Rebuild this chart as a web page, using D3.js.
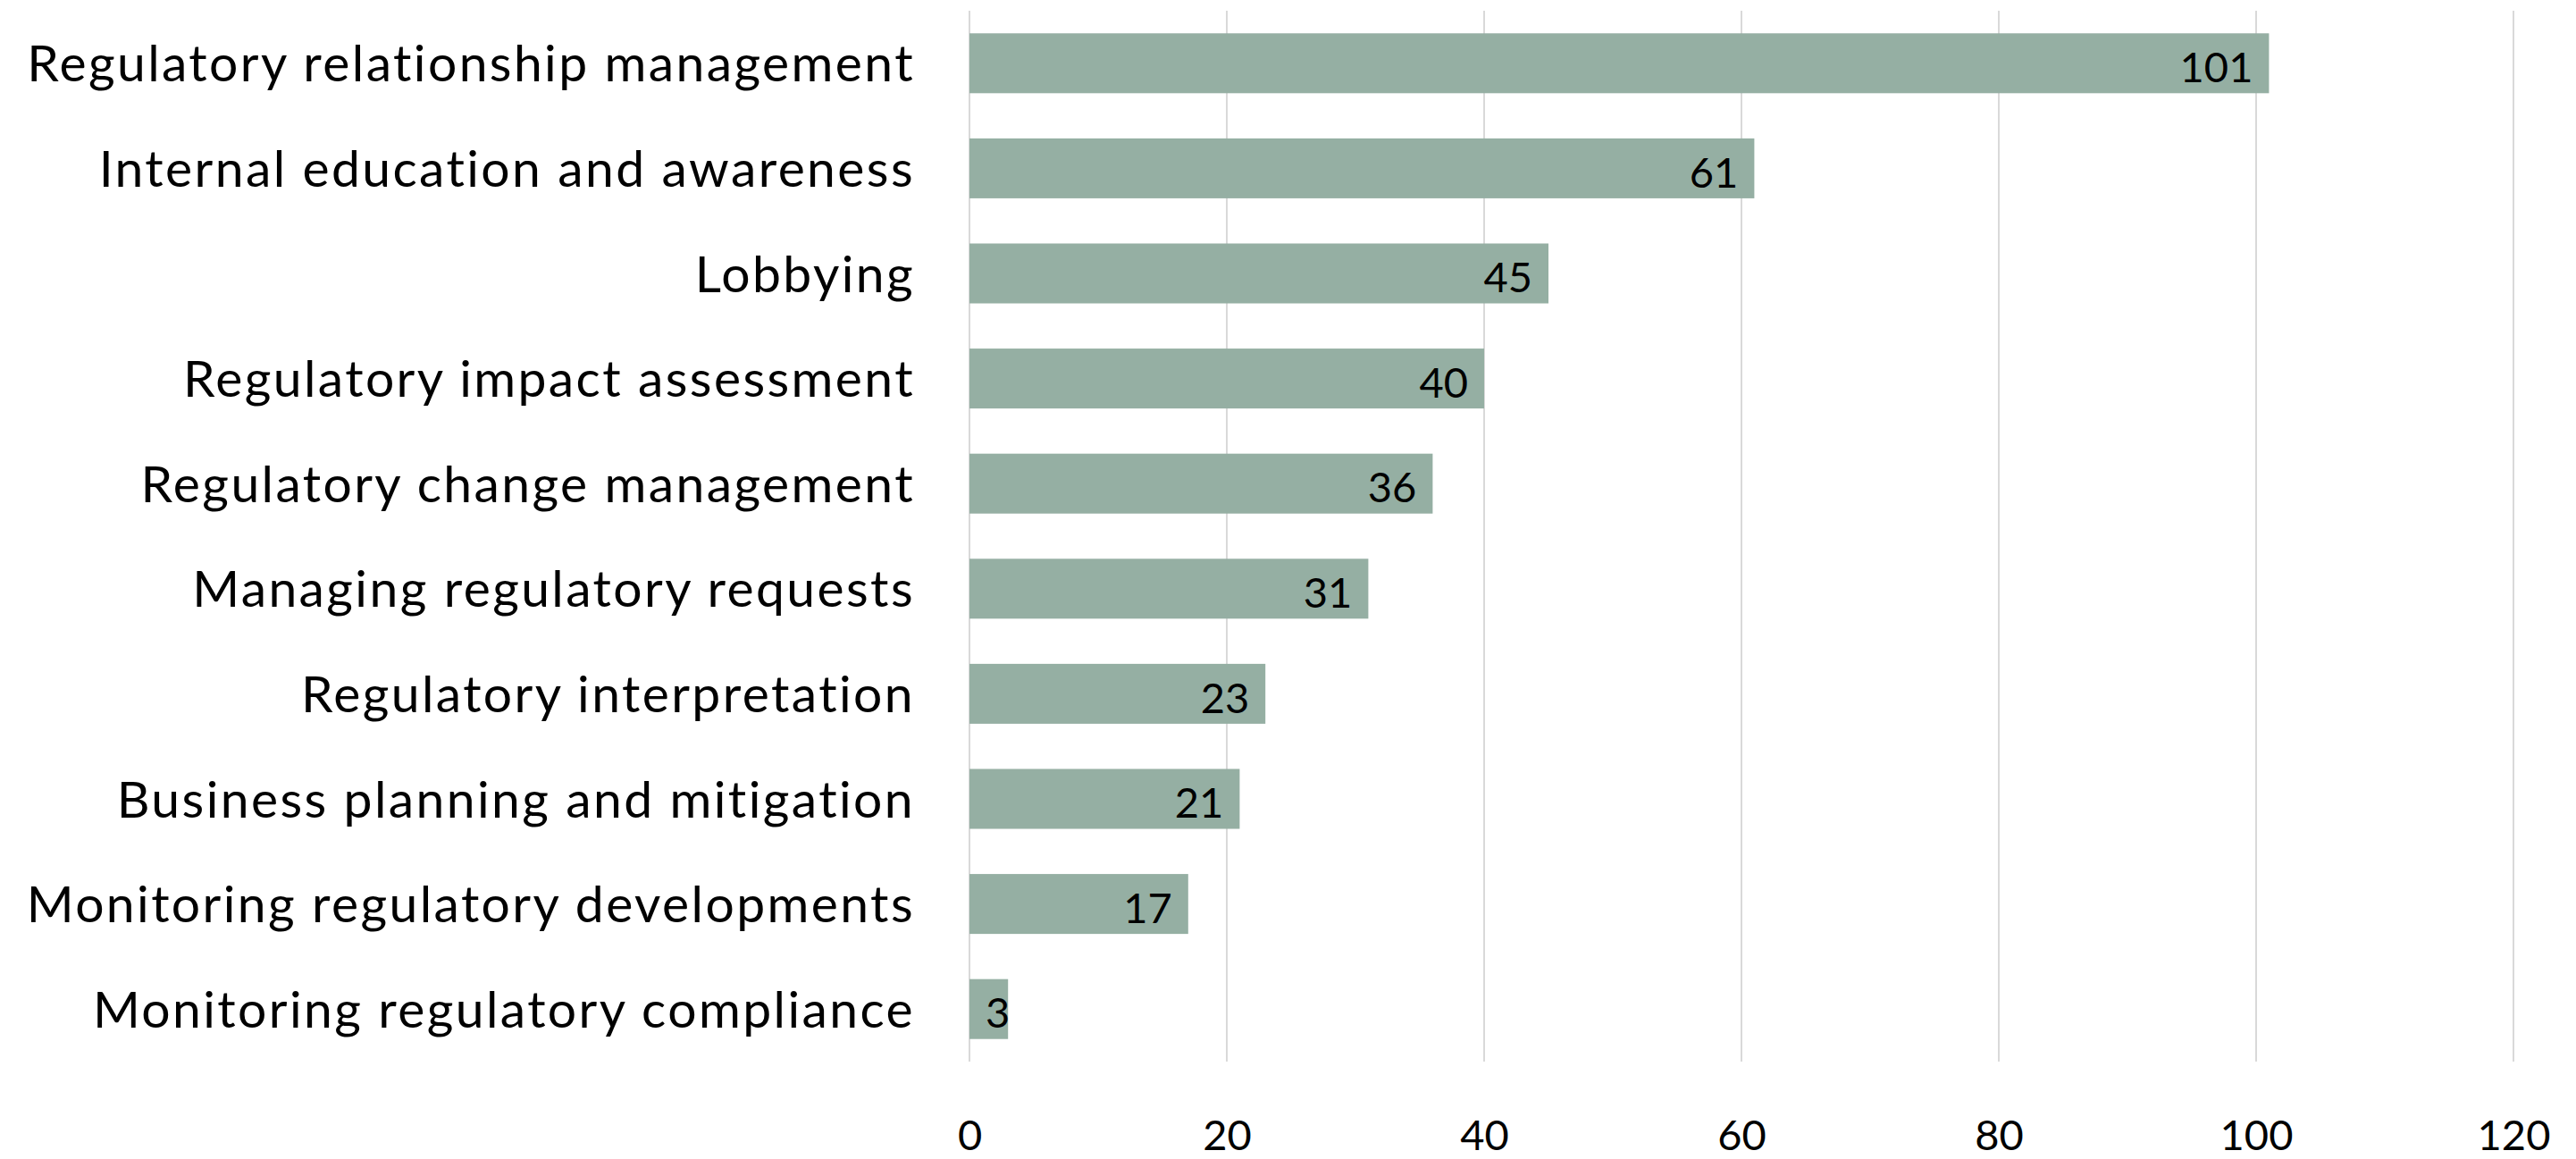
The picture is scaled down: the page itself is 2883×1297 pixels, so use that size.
<!DOCTYPE html>
<html>
<head>
<meta charset="utf-8">
<script src="https://cdn.jsdelivr.net/npm/d3@7"></script>
<style>
  body { margin: 0; background: #fff; }
  text { font-family: Lato, "Open Sans", sans-serif; fill: #000; }
</style>
</head>
<body>
<div id="chart"></div>
<script>
var svgWidth = 2883;
var svgHeight = 1297;

// data
var categories = [
    "Regulatory relationship management",
    "Internal education and awareness",
    "Lobbying",
    "Regulatory impact assessment",
    "Regulatory change management",
    "Managing regulatory requests",
    "Regulatory interpretation",
    "Business planning and mitigation",
    "Monitoring regulatory developments",
    "Monitoring regulatory compliance"
];
var counts = [101, 61, 45, 40, 36, 31, 23, 21, 17, 3];
var xTicks = [0, 20, 40, 60, 80, 100, 120];

var plot = { left: 1085, right: 2813, top: 12, bottom: 1188 };

var svg = d3.select("#chart")
    .append("svg")
    .attr("width", svgWidth)
    .attr("height", svgHeight);

var xScale = d3.scaleLinear()
    .domain([0, 120])
    .range([plot.left, plot.right]);

var yScale = d3.scaleBand()
    .domain(categories)
    .range([plot.top, plot.bottom])
    .paddingInner(0.43)
    .paddingOuter(0.215);

// vertical gridlines
svg.append("g")
    .selectAll("line")
    .data(xTicks)
    .enter()
    .append("line")
    .attr("x1", d => xScale(d))
    .attr("x2", d => xScale(d))
    .attr("y1", plot.top)
    .attr("y2", plot.bottom)
    .attr("stroke", "#d9d9d9")
    .attr("stroke-width", 2);

// bottom axis (labels only)
var bottomAxis = d3.axisBottom(xScale)
    .tickValues(xTicks)
    .tickSize(0)
    .tickPadding(0);

var xAxis = svg.append("g")
    .attr("transform", `translate(0, 1287)`)
    .call(bottomAxis);
xAxis.select(".domain").remove();
xAxis.selectAll("text")
    .attr("dy", 0)
    .attr("font-size", 47)
    .attr("font-family", "Lato, sans-serif")
    .attr("fill", "#000");

// bars
svg.append("g")
    .selectAll("rect")
    .data(counts)
    .enter()
    .append("rect")
    .attr("x", xScale(0))
    .attr("y", (d, i) => yScale(categories[i]))
    .attr("width", d => xScale(d) - xScale(0))
    .attr("height", yScale.bandwidth())
    .attr("fill", "#95afa3");

// category labels
svg.append("g")
    .selectAll("text")
    .data(categories)
    .enter()
    .append("text")
    .attr("x", 1024)
    .attr("y", d => yScale(d) + yScale.bandwidth() / 2)
    .attr("dy", "0.36em")
    .attr("text-anchor", "end")
    .attr("font-size", 57)
    .attr("letter-spacing", 2.4)
    .text(d => d);

// value labels, inside end
var pad = 18;
svg.append("g")
    .selectAll("text")
    .data(counts)
    .enter()
    .append("text")
    .attr("y", (d, i) => yScale(categories[i]) + yScale.bandwidth() / 2)
    .attr("dy", "0.45em")
    .attr("text-anchor", "end")
    .attr("font-size", 47)
    .text(d => d)
    .attr("x", function(d) {
        var w = this.getComputedTextLength();
        return Math.max(xScale(d) - pad, xScale(0) + pad + w);
    });
</script>
</body>
</html>
